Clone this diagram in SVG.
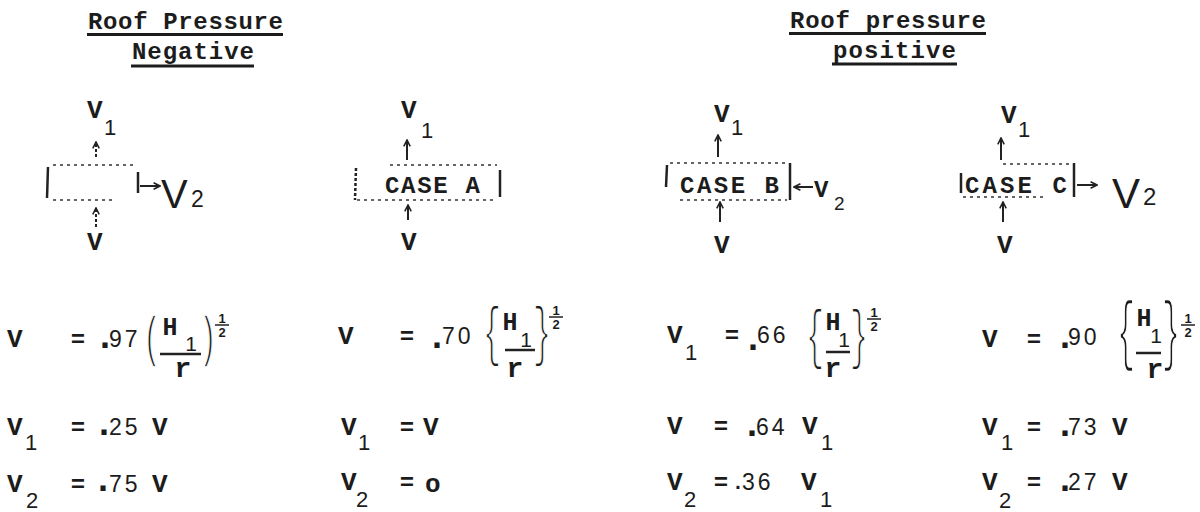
<svg xmlns="http://www.w3.org/2000/svg" width="1200" height="512" viewBox="0 0 1200 512">
<defs>
<style>
.ty{font-family:"Liberation Mono","Courier New",monospace;font-weight:bold;fill:#1c1c1c}
.hd{font-size:24px}
.v{font-size:26px}
.cs{font-size:24px}
.dg{font-family:"Liberation Sans",Arial,sans-serif;fill:#1c1c1c}
.sub{font-size:22px}
.num{font-size:23px;letter-spacing:3px}
.dot{font-family:"Liberation Sans",Arial,sans-serif;font-weight:bold;font-size:36px;fill:#1c1c1c;text-anchor:middle}
.eq{font-family:"Liberation Mono",monospace;font-weight:bold;font-size:24px;text-anchor:middle;fill:#1c1c1c}
.mx{text-anchor:middle;fill:#1c1c1c;font-family:"Liberation Mono",monospace}
.br{font-family:"Liberation Mono",monospace;font-size:30px;text-anchor:middle;fill:#1c1c1c;stroke:#fff;stroke-width:0.9px}
.hh{font-family:"Liberation Mono",monospace;font-size:25px;font-weight:bold}
.s1{font-family:"Liberation Sans",Arial,sans-serif;font-size:21px;font-weight:normal}
.rr{font-family:"Liberation Mono",monospace;font-size:28px;font-weight:bold}
.hf{font-family:"Liberation Sans",Arial,sans-serif;font-weight:bold;font-size:13px}
.ul{stroke:#1c1c1c;stroke-width:3}
.dl{stroke:#333;stroke-width:1.6;stroke-dasharray:3 4;fill:none}
.bar{stroke:#222;stroke-width:2.5}
.fb{stroke:#222;stroke-width:2.5}
.hb{stroke:#222;stroke-width:1.5}
.arr{stroke:#222;stroke-width:2;fill:none;marker-end:url(#ah)}
.dash{stroke-dasharray:3 2}
</style>
<marker id="ah" viewBox="0 0 10 10" refX="9" refY="5" markerWidth="8" markerHeight="8" orient="auto" markerUnits="userSpaceOnUse">
<path d="M1 1 L9 5 L1 9" fill="none" stroke="#222" stroke-width="2"/>
</marker>
</defs>
<rect width="1200" height="512" fill="#fff"/>

<g id="header-negative">
<text class="ty hd" x="88" y="29" textLength="195" lengthAdjust="spacing">Roof Pressure</text>
<line class="ul" x1="87" y1="34.5" x2="283" y2="34.5"/>
<text class="ty hd" x="132" y="59" textLength="122" lengthAdjust="spacing">Negative</text>
<line class="ul" x1="131" y1="66" x2="254" y2="66"/>
</g>
<g id="header-positive">
<text class="ty hd" x="790" y="28" textLength="196" lengthAdjust="spacing">Roof pressure</text>
<line class="ul" x1="789" y1="33.5" x2="986" y2="33.5"/>
<text class="ty hd" x="833" y="58" textLength="123" lengthAdjust="spacing">positive</text>
<line class="ul" x1="832" y1="64" x2="957" y2="64"/>
</g>

<g id="case-negative">
<text class="ty v" x="87" y="118">V</text><text class="dg sub" x="104" y="135">1</text>
<line class="bar" x1="48" y1="167" x2="47" y2="198"/>
<line class="dl" x1="53" y1="165" x2="133" y2="165"/>
<line class="dl" x1="53" y1="200" x2="113" y2="200"/>
<line class="bar" x1="138" y1="172" x2="138" y2="193"/>
<text class="dg" font-size="40" x="161" y="208">V</text><text class="dg" font-size="23" x="191" y="207">2</text>
<text class="ty v" x="87" y="250">V</text>
</g>

<g id="case-a">
<text class="ty v" x="401" y="118">V</text><text class="dg sub" x="421" y="138">1</text>
<line class="bar dash" x1="356" y1="168" x2="355" y2="200"/>
<line class="dl" x1="390" y1="165" x2="497" y2="165"/>
<line class="dl" x1="357" y1="200" x2="497" y2="200"/>
<line class="bar" x1="500" y1="170" x2="500" y2="197"/>
<text class="ty cs" x="385" y="193" textLength="95" lengthAdjust="spacing">CASE A</text>
<text class="ty v" x="401" y="250">V</text>
</g>

<g id="case-b">
<text class="ty v" x="714" y="122">V</text><text class="dg sub" x="731" y="135">1</text>
<line class="bar" x1="667" y1="165" x2="666" y2="187"/>
<line class="dl" x1="670" y1="163" x2="787" y2="163"/>
<line class="dl" x1="680" y1="200" x2="787" y2="200"/>
<line class="bar" x1="790" y1="163" x2="790" y2="200"/>
<text class="ty cs" x="680" y="193" textLength="99" lengthAdjust="spacing">CASE B</text>
<text class="ty" font-size="24" x="814" y="197">V</text><text class="dg" font-size="19" x="834" y="210">2</text>
<text class="ty v" x="714" y="253">V</text>
</g>

<g id="case-c">
<text class="ty v" x="1001" y="123">V</text><text class="dg sub" x="1018" y="137">1</text>
<line class="bar" x1="961" y1="173" x2="961" y2="193"/>
<line class="dl" x1="1003" y1="164" x2="1073" y2="164"/>
<line class="dl" x1="963" y1="197" x2="1043" y2="197"/>
<line class="bar" x1="1074" y1="163" x2="1074" y2="197"/>
<text class="ty cs" x="965" y="193" textLength="102" lengthAdjust="spacing">CASE C</text>
<text class="dg" font-size="42" x="1112" y="208">V</text><text class="dg" font-size="24" x="1143" y="205">2</text>
<text class="ty v" x="997" y="253">V</text>
</g>

<g id="connectors">
<path class="arr dash" d="M96 157 V142"/>
<path class="arr dash" d="M96 227 V208"/>
<path class="arr" d="M140 186 H160"/>
<path class="arr" d="M407 160 V140"/>
<path class="arr" d="M408 220 V205"/>
<path class="arr" d="M718 157 V135"/>
<path class="arr" d="M720 222 V202"/>
<path class="arr" d="M813 187 H794"/>
<path class="arr" d="M1001 160 V138"/>
<path class="arr" d="M1003 222 V202"/>
<path class="arr" d="M1077 185 H1097"/>
</g>

<g id="formula-negative">
<text class="ty v" x="7" y="347">V</text>
<text class="eq" x="78" y="347">=</text>
<text class="dot" x="105" y="347.5">.</text>
<text class="dg num" x="109" y="347">97</text>
<text class="br" transform="translate(152 355) scale(1 1.87)">(</text>
<text class="br" transform="translate(208 355) scale(1 1.87)">)</text>
<text class="mx"><tspan class="hh" x="170" y="335">H</tspan><tspan class="s1" x="191" y="351">1</tspan><tspan class="rr" x="183" y="377">r</tspan><tspan class="hf" x="222" y="323">1</tspan><tspan class="hf" x="222" y="337">2</tspan></text>
<line class="fb" x1="160" y1="354" x2="201" y2="354"/>
<line class="hb" x1="215" y1="325" x2="229" y2="325"/>

<text class="ty v" x="7" y="435">V</text><text class="dg sub" x="25" y="450">1</text>
<text class="eq" x="78" y="435">=</text>
<text class="dot" x="104" y="434.5">.</text>
<text class="dg num" x="109" y="435">25</text>
<text class="ty v" x="152" y="435">V</text>

<text class="ty v" x="7" y="492">V</text><text class="dg sub" x="26" y="508">2</text>
<text class="eq" x="78" y="492">=</text>
<text class="dot" x="103" y="490.5">.</text>
<text class="dg num" x="109" y="492">75</text>
<text class="ty v" x="152" y="492">V</text>
</g>

<g id="formula-a">
<text class="ty v" x="338" y="344">V</text>
<text class="eq" x="407" y="344">=</text>
<text class="dot" x="437" y="347.5">.</text>
<text class="dg num" x="442" y="344">70</text>
<text class="br" transform="translate(492 353) scale(1 2.2)">{</text>
<text class="br" transform="translate(542 353) scale(1 2.2)">}</text>
<text class="mx"><tspan class="hh" x="510" y="330">H</tspan><tspan class="s1" x="526" y="347">1</tspan><tspan class="rr" x="515" y="377">r</tspan><tspan class="hf" x="556" y="315">1</tspan><tspan class="hf" x="556" y="329">2</tspan></text>
<line class="fb" x1="505" y1="350" x2="535" y2="350"/>
<line class="hb" x1="549" y1="317" x2="563" y2="317"/>

<text class="ty v" x="341" y="435">V</text><text class="dg sub" x="358" y="450">1</text>
<text class="eq" x="407" y="435">=</text>
<text class="ty v" x="423" y="435">V</text>

<text class="ty v" x="341" y="490">V</text><text class="dg sub" x="356" y="507">2</text>
<text class="eq" x="407" y="490">=</text>
<text class="ty" font-size="26" font-weight="normal" x="425" y="492">o</text>
</g>

<g id="formula-b">
<text class="ty v" x="667" y="343">V</text><text class="dg sub" x="685" y="360">1</text>
<text class="eq" x="732" y="343">=</text>
<text class="dot" x="753" y="349.5">.</text>
<text class="dg num" x="757" y="343">66</text>
<text class="br" transform="translate(815 355.5) scale(1 2.24)">{</text>
<text class="br" transform="translate(859 355.5) scale(1 2.24)">}</text>
<text class="mx"><tspan class="hh" x="833" y="330">H</tspan><tspan class="s1" x="844" y="347">1</tspan><tspan class="rr" x="833" y="377">r</tspan><tspan class="hf" x="874" y="317">1</tspan><tspan class="hf" x="874" y="331">2</tspan></text>
<line class="fb" x1="826" y1="352" x2="850" y2="352"/>
<line class="hb" x1="867" y1="319" x2="881" y2="319"/>

<text class="ty v" x="667" y="434">V</text>
<text class="eq" x="721" y="434">=</text>
<text class="dot" x="752" y="435.5">.</text>
<text class="dg num" x="756" y="435">64</text>
<text class="ty v" x="802" y="434">V</text><text class="dg sub" x="821" y="450">1</text>

<text class="ty v" x="667" y="490">V</text><text class="dg sub" x="684" y="507">2</text>
<text class="eq" x="721" y="490">=</text>
<text class="dg" font-size="30" text-anchor="middle" x="738" y="489">.</text>
<text class="dg num" x="742" y="490">36</text>
<text class="ty v" x="801" y="490">V</text><text class="dg sub" x="820" y="507">1</text>
</g>

<g id="formula-c">
<text class="ty v" x="982" y="347">V</text>
<text class="eq" x="1034" y="347">=</text>
<text class="dot" x="1065" y="347.5">.</text>
<text class="dg num" x="1068" y="345">90</text>
<text class="br" transform="translate(1126 356) scale(1 2.6)">{</text>
<text class="br" transform="translate(1171 356) scale(1 2.6)">}</text>
<text class="mx"><tspan class="hh" x="1144" y="326">H</tspan><tspan class="s1" x="1156" y="343">1</tspan><tspan class="rr" x="1155" y="378">r</tspan><tspan class="hf" x="1188" y="323">1</tspan><tspan class="hf" x="1188" y="337">2</tspan></text>
<line class="fb" x1="1136" y1="353" x2="1161" y2="353"/>
<line class="hb" x1="1181" y1="325" x2="1195" y2="325"/>

<text class="ty v" x="982" y="435">V</text><text class="dg sub" x="1001" y="450">1</text>
<text class="eq" x="1034" y="435">=</text>
<text class="dot" x="1065" y="435.5">.</text>
<text class="dg num" x="1068" y="435">73</text>
<text class="ty v" x="1112" y="435">V</text>

<text class="ty v" x="982" y="490">V</text><text class="dg sub" x="999" y="508">2</text>
<text class="eq" x="1034" y="490">=</text>
<text class="dot" x="1065" y="490.5">.</text>
<text class="dg num" x="1068" y="490">27</text>
<text class="ty v" x="1112" y="490">V</text>
</g>
</svg>
